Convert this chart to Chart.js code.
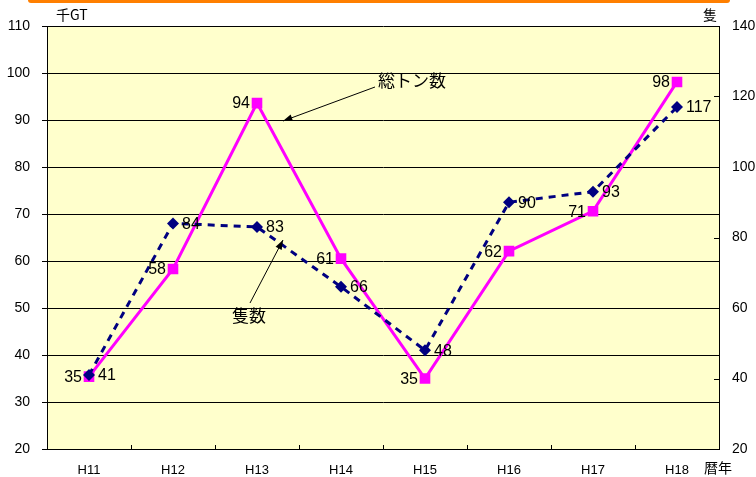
<!DOCTYPE html>
<html>
<head>
<meta charset="utf-8">
<script src="https://cdn.jsdelivr.net/npm/chart.js@4"></script>
<style>
  html, body { margin: 0; padding: 0; background: #fff; }
  #wrap { position: relative; width: 756px; height: 477px; }
</style>
</head>
<body>
<div id="wrap"><canvas id="chart" width="756" height="477"></canvas></div>
<script>
// Data
const years = ['H11', 'H12', 'H13', 'H14', 'H15', 'H16', 'H17', 'H18'];
const tonnage = [35.4, 58.3, 93.6, 60.5, 35, 62.1, 70.6, 98.1];   // 千GT (left axis)
const ships = [41, 84, 83, 66, 48, 90, 93, 117];                   // 隻 (right axis)
const leftTicks = [20, 110, 10];   // min, max, step
const rightTicks = [20, 140, 20];

const jp = '"Noto Sans CJK JP", sans-serif';
const num = '"Liberation Sans", Arial, sans-serif';

// background, labels, arrows
const decor = {
    id: 'decor',
    beforeDraw(chart) {
        const { ctx, chartArea: a } = chart;
        ctx.save();
        ctx.fillStyle = '#FFFFCC';
        ctx.fillRect(a.left, a.top, a.right - a.left, a.bottom - a.top);
        // orange line at the very top
        ctx.fillStyle = '#FF7F00';
        ctx.beginPath();
        ctx.roundRect(28, -3, 702, 6, 3);
        ctx.fill();
        ctx.restore();
    },
    afterDraw(chart) {
        const { ctx, chartArea: a } = chart;
        const x = chart.scales.x;
        const y1 = chart.scales.y1;
        ctx.save();
        // small inside tick marks on x axis and right axis
        ctx.strokeStyle = '#000';
        ctx.lineWidth = 1;
        const step = x.getPixelForValue(1) - x.getPixelForValue(0);
        for (let i = 1; i < years.length; i++) {
            const px = Math.round(x.getPixelForValue(i) - step / 2) + 0.5;
            ctx.beginPath();
            ctx.moveTo(px, a.bottom);
            ctx.lineTo(px, a.bottom - 4);
            ctx.stroke();
        }
        y1.ticks.forEach(t => {
            const py = Math.round(y1.getPixelForValue(t.value)) + 0.5;
            ctx.beginPath();
            ctx.moveTo(a.right, py);
            ctx.lineTo(a.right - 5, py);
            ctx.stroke();
        });

        // point labels
        ctx.fillStyle = '#000';
        ctx.font = '16px ' + num;
        ctx.textBaseline = 'middle';
        const m0 = chart.getDatasetMeta(0).data;
        const m1 = chart.getDatasetMeta(1).data;
        ctx.textAlign = 'right';
        m0.forEach((p, i) => ctx.fillText(Math.round(tonnage[i]), p.x - 7, p.y + 1));
        ctx.textAlign = 'left';
        m1.forEach((p, i) => ctx.fillText(ships[i], p.x + 9, p.y + 1));

        // axis titles
        ctx.font = '14px ' + jp;
        ctx.textAlign = 'left';
        ctx.fillText('千GT', 56, 15);
        ctx.fillText('隻', 703, 15);
        ctx.fillText('暦年', 704, 468);

        // annotations
        ctx.font = '17px ' + jp;
        ctx.fillText('総トン数', 378, 81);
        ctx.fillText('隻数', 232, 316);
        arrow(ctx, 375, 87, 283, 121);
        arrow(ctx, 250, 303, 283, 240);
        ctx.restore();
    }
};

function arrow(ctx, x1, y1, x2, y2) {
    const ang = Math.atan2(y2 - y1, x2 - x1);
    ctx.strokeStyle = '#000';
    ctx.fillStyle = '#000';
    ctx.lineWidth = 1;
    ctx.beginPath();
    ctx.moveTo(x1, y1);
    ctx.lineTo(x2, y2);
    ctx.stroke();
    ctx.beginPath();
    ctx.moveTo(x2, y2);
    ctx.lineTo(x2 - 10 * Math.cos(ang - 0.35), y2 - 10 * Math.sin(ang - 0.35));
    ctx.lineTo(x2 - 10 * Math.cos(ang + 0.35), y2 - 10 * Math.sin(ang + 0.35));
    ctx.closePath();
    ctx.fill();
}

const ctx = document.getElementById('chart').getContext('2d');
new Chart(ctx, {
    type: 'line',
    data: {
        labels: years,
        datasets: [{
            label: '総トン数',
            data: tonnage,
            yAxisID: 'y',
            borderColor: '#FF00FF',
            backgroundColor: '#FF00FF',
            borderWidth: 3,
            pointStyle: 'rect',
            pointRadius: 7.5,
            pointBorderWidth: 0,
            tension: 0,
            order: 2
        }, {
            label: '隻数',
            data: ships,
            yAxisID: 'y1',
            borderColor: '#000080',
            backgroundColor: '#000080',
            borderWidth: 3,
            borderDash: [7, 6],
            pointStyle: 'rectRot',
            pointRadius: 6,
            pointBorderWidth: 0,
            tension: 0,
            order: 1
        }]
    },
    options: {
        responsive: false,
        animation: false,
        devicePixelRatio: 1,
        layout: { padding: { top: 26, left: 0, right: 0, bottom: 0 } },
        plugins: {
            legend: { display: false },
            tooltip: { enabled: false }
        },
        scales: {
            x: {
                offset: true,
                grid: { display: false, drawTicks: false },
                border: { color: '#000', width: 1 },
                ticks: { color: '#000', font: { family: num, size: 13 }, padding: 14, maxRotation: 0 },
                afterFit(scale) { scale.height = 28; }
            },
            y: {
                position: 'left',
                min: leftTicks[0],
                max: leftTicks[1],
                ticks: { stepSize: leftTicks[2], color: '#000', font: { family: num, size: 14 }, padding: 12 },
                grid: { color: '#000', lineWidth: 1, tickLength: 5 },
                border: { color: '#000', width: 1 },
                afterFit(scale) { scale.width = 47; }
            },
            y1: {
                position: 'right',
                min: rightTicks[0],
                max: rightTicks[1],
                ticks: { stepSize: rightTicks[2], color: '#000', font: { family: num, size: 14 }, padding: 13 },
                grid: { drawOnChartArea: false, drawTicks: false },
                border: { color: '#000', width: 1 },
                afterFit(scale) { scale.width = 37; }
            }
        }
    },
    plugins: [decor]
});
</script>
</body>
</html>
